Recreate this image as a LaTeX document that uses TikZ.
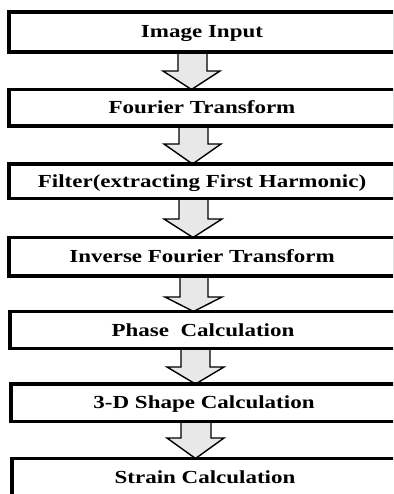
\documentclass[tikz,border=0pt]{standalone}
\usepackage{fontspec}
\setmainfont{Liberation Serif}[FakeStretch=1.25]
\usetikzlibrary{backgrounds}
\begin{document}
\begin{tikzpicture}[x=1pt,y=-1pt,
  box/.style={draw, line width=3.8pt, rectangle, anchor=north west,
    minimum width=386pt, inner sep=0pt, outer sep=0pt,
    font=\fontsize{18.4}{20}\selectfont\bfseries,
    text height=12pt, text depth=0pt},
  blockarr/.style={draw=black, line width=1.4pt, fill=black!9, line join=miter}]
\useasboundingbox (0,0) rectangle (393,494);
\clip (0,0) rectangle (393,494);
\node[box, minimum height=40pt]   (b1) at (9,12)     {Image Input};
\node[box, minimum height=36.5pt] (b2) at (9,89.5)   {Fourier Transform};
\node[box, minimum height=34.5pt] (b3) at (9,164)    {Filter(extracting First Harmonic)};
\node[box, minimum height=38.5pt] (b4) at (9,237.5)  {Inverse Fourier Transform};
\node[box, minimum height=37pt]   (b5) at (10,311.5) {Phase\ \ Calculation};
\node[box, minimum height=37.5pt] (b6) at (11,384)   {3-D Shape Calculation};
\node[box, minimum height=38pt]   (b7) at (12,458.5) {Strain Calculation};
\begin{pgfonlayer}{background}
\filldraw[blockarr] (178,0 |- b1.south) -- (178,71) -- (163,71) -- (191.5,0 |- b2.north) -- (220,71) -- (207,71) -- (207,0 |- b1.south);
\filldraw[blockarr] (179,0 |- b2.south) -- (179,144) -- (164,144) -- (192.5,0 |- b3.north) -- (221,144) -- (208,144) -- (208,0 |- b2.south);
\filldraw[blockarr] (179,0 |- b3.south) -- (179,219) -- (164,219) -- (193,0 |- b4.north) -- (222,219) -- (208,219) -- (208,0 |- b3.south);
\filldraw[blockarr] (180,0 |- b4.south) -- (180,297) -- (165,297) -- (193.5,0 |- b5.north) -- (222,297) -- (208,297) -- (208,0 |- b4.south);
\filldraw[blockarr] (181,0 |- b5.south) -- (181,367) -- (167,367) -- (195.5,0 |- b6.north) -- (224,367) -- (210,367) -- (210,0 |- b5.south);
\filldraw[blockarr] (181,0 |- b6.south) -- (181,438) -- (167,438) -- (195.5,0 |- b7.north) -- (224,438) -- (211,438) -- (211,0 |- b6.south);
\end{pgfonlayer}
\end{tikzpicture}
\end{document}
